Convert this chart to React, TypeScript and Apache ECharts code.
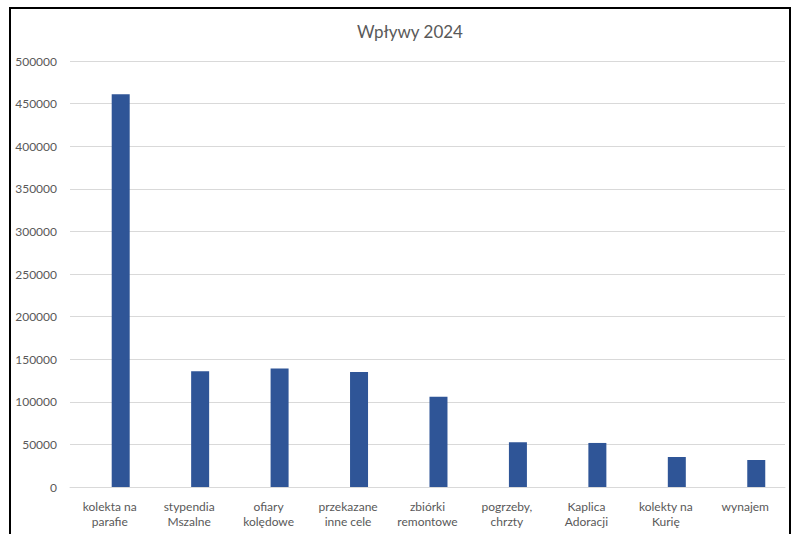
import React, { useEffect, useRef } from "react";
import * as echarts from "echarts";

const title = "Wpływy 2024";
const categories = [
  "kolekta na\nparafie",
  "stypendia\nMszalne",
  "ofiary\nkolędowe",
  "przekazane\ninne cele",
  "zbiórki\nremontowe",
  "pogrzeby,\nchrzty",
  "Kaplica\nAdoracji",
  "kolekty na\nKurię",
  "wynajem",
];
const values = [461000, 136000, 139000, 135000, 106000, 52500, 51700, 35200, 31700];
const emptySeries = categories.map(() => null);

export default function App() {
  const ref = useRef<HTMLDivElement>(null);
  useEffect(() => {
    if (!ref.current) return;
    const chart = echarts.init(ref.current, null, { renderer: "svg" });
    const font = "Lato, 'Open Sans', sans-serif";
    chart.setOption({
      animation: false,
      backgroundColor: "#ffffff",
      graphic: [
        {
          type: "rect",
          shape: { x: 10, y: 8, width: 780, height: 540 },
          style: { fill: "#ffffff", stroke: "#000000", lineWidth: 2 },
          z: -10,
          silent: true,
        },
      ],
      title: {
        text: title,
        left: 405,
        textAlign: "center",
        top: 18,
        textStyle: { fontFamily: font, fontSize: 17, fontWeight: "normal", color: "#595959" },
      },
      grid: { left: 70, right: 13, top: 61, bottom: 47, containLabel: false },
      xAxis: {
        type: "category",
        data: categories,
        axisLine: { show: true, lineStyle: { color: "#d9d9d9", width: 1 } },
        axisTick: { show: false },
        axisLabel: {
          interval: 0,
          margin: 12,
          fontFamily: font,
          fontSize: 12,
          lineHeight: 15,
          color: "#595959",
        },
      },
      yAxis: {
        type: "value",
        min: 0,
        max: 500000,
        interval: 50000,
        axisLine: { show: false },
        axisTick: { show: false },
        splitLine: { lineStyle: { color: "#d9d9d9", width: 1 } },
        axisLabel: {
          margin: 13,
          fontFamily: font,
          fontSize: 12,
          color: "#595959",
          formatter: (v: number) => String(v),
        },
      },
      series: [
        { type: "bar", data: emptySeries, barWidth: 18, barGap: "22%" },
        {
          type: "bar",
          data: values,
          barWidth: 18,
          barGap: "22%",
          itemStyle: { color: "#2F5597" },
        },
      ],
    });
    return () => chart.dispose();
  }, []);
  return (
    <div
      ref={ref}
      style={{ position: "fixed", left: 0, top: 0, width: 798, height: 534 }}
    />
  );
}
